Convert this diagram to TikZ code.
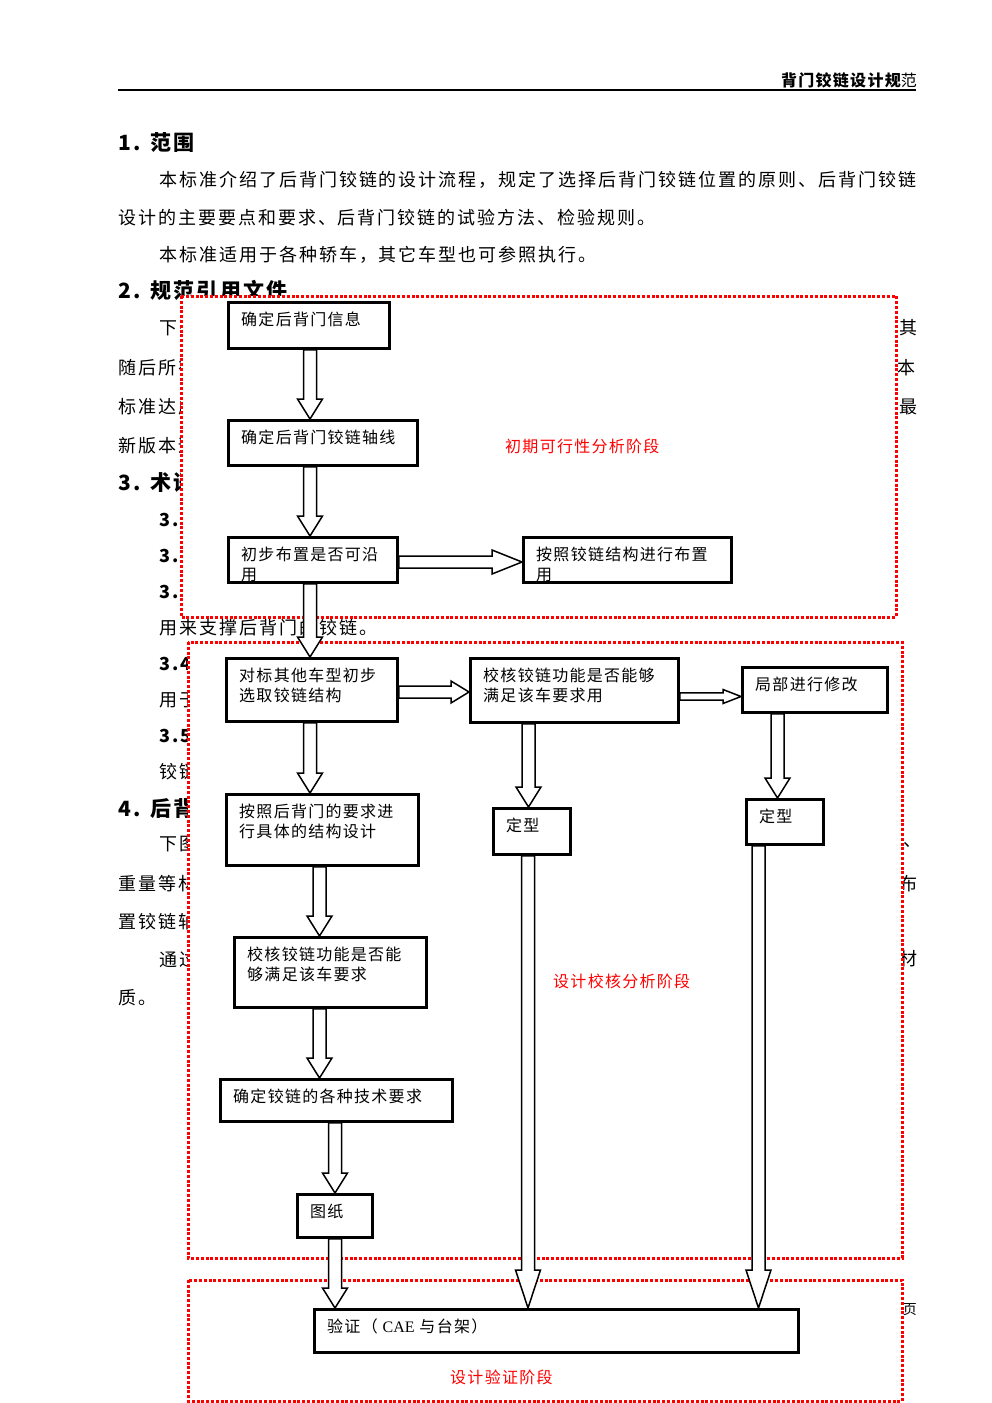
\documentclass[tikz,border=0pt]{standalone}
\usepackage{fontspec}
\setmainfont{Noto Sans CJK SC}
\newfontfamily\pagecjk[LetterSpace=11]{Noto Sans CJK SC}
\newfontfamily\stagecjk[LetterSpace=8]{Noto Sans CJK SC}
\newfontfamily\serifpart{Liberation Serif}
\usetikzlibrary{calc}
\tikzset{
stage/.style={draw, line width=2.9pt, fill=white, inner sep=0pt, anchor=north west}, % boxes of the flow chart
stagetext/.style={anchor=north west, inner sep=0pt, align=left, font=\stagecjk\fontsize{16}{20}\selectfont}, % text in a box, top left
flowarrow/.style={draw, line width=1.5pt, fill=white, line join=miter}, % hollow block arrows
phase/.style={draw=red, line width=3pt, dash pattern=on 3pt off 1.8pt, fill=white}, % dotted stage frames
phasetext/.style={anchor=west, inner sep=0pt, text=red, font=\stagecjk\fontsize{16}{20}\selectfont},
para/.style={anchor=west, inner sep=0pt, font=\pagecjk\fontsize{18}{20}\selectfont}, % page text behind the chart
paraend/.style={para, anchor=east},
sectionhead/.style={anchor=west, inner sep=0pt, font=\pagecjk\fontsize{21}{24}\selectfont\bfseries},
}
% vertical hollow arrow: [head length]{from}{to}{x}
\newcommand{\vflow}[4][20]{
    \draw[flowarrow] let \p1=(#2.south), \p2=(#3.north), \p3=(#4,0) in
        (\x3-6.5pt,\y1) -- (\x3-6.5pt,\y2+#1pt) -- (\x3-12.5pt,\y2+#1pt) -- (\x3,\y2)
        -- (\x3+12.5pt,\y2+#1pt) -- (\x3+6.5pt,\y2+#1pt) -- (\x3+6.5pt,\y1) -- cycle;
}
% horizontal hollow arrow: {from}{to}{y}{shaft half}{head half}{head length}
\newcommand{\hflow}[6]{
    \draw[flowarrow] let \p1=(#1.east), \p2=(#2.west), \p3=(0,#3) in
        (\x1,\y3+#4pt) -- (\x2-#6pt,\y3+#4pt) -- (\x2-#6pt,\y3+#5pt) -- (\x2,\y3)
        -- (\x2-#6pt,\y3-#5pt) -- (\x2-#6pt,\y3-#4pt) -- (\x1,\y3-#4pt) -- cycle;
}

\begin{document}
\begin{tikzpicture}[x=1pt, y=-1pt]
                \useasboundingbox (0,0) rectangle (992,1403);
                \fill[white] (0,0) rectangle (992,1403);
                % page behind the chart
                \node[anchor=east, inner sep=0pt, font=\stagecjk\fontsize{16}{20}\selectfont] (runhead) at (917,80) {{\bfseries 背门铰链设计规}范};
                \draw[line width=1.8pt] (118,90) -- (916,90);
                \node[sectionhead] (sec1) at (118,143) {1. 范围};
                \node[para] (p1) at (159,180) {本标准介绍了后背门铰链的设计流程，规定了选择后背门铰链位置的原则、后背门铰链};
                \node[para] (p2) at (118,218) {设计的主要要点和要求、后背门铰链的试验方法、检验规则。};
                \node[para] (p3) at (159,255) {本标准适用于各种轿车，其它车型也可参照执行。};
                \node[sectionhead] (sec2) at (118,290) {2. 规范引用文件};
                \node[para] (p4) at (159,328) {下列};
                \node[para] (p5) at (118,368) {随后所有};
                \node[para] (p6) at (118,407) {标准达成};
                \node[para] (p7) at (118,446) {新版本适};
                \node[sectionhead] (sec3) at (118,483) {3. 术语和};
                \node[para, font=\pagecjk\fontsize{18}{20}\selectfont\bfseries] (d1) at (159,520) {3.1};
                \node[para, font=\pagecjk\fontsize{18}{20}\selectfont\bfseries] (d2) at (159,556) {3.2};
                \node[para, font=\pagecjk\fontsize{18}{20}\selectfont\bfseries] (d3) at (159,592) {3.3};
                \node[para] (p8) at (159,628) {用来支撑后背门的铰链。};
                \node[para, font=\pagecjk\fontsize{18}{20}\selectfont\bfseries] (d4) at (159,664) {3.4};
                \node[para] (p9) at (159,700) {用于};
                \node[para, font=\pagecjk\fontsize{18}{20}\selectfont\bfseries] (d5) at (159,736) {3.5};
                \node[para] (p10) at (159,772) {铰链};
                \node[sectionhead] (sec4) at (118,808) {4. 后背门};
                \node[para] (p11) at (159,844) {下图};
                \node[para] (p12) at (118,884) {重量等材};
                \node[para] (p13) at (118,922) {置铰链轴};
                \node[para] (p14) at (159,960) {通过};
                \node[para] (p15) at (118,998) {质。};
                \node[paraend] (e1) at (918,328) {其};
                \node[paraend] (e2) at (916,368) {本};
                \node[paraend] (e3) at (918,407) {最};
                \node[paraend] (e4) at (922,845) {、};
                \node[paraend] (e5) at (918,884) {布};
                \node[paraend] (e6) at (918,959) {材};
                \node[paraend, font=\pagecjk\fontsize{14}{16}\selectfont] (e7) at (917,1310) {页};
                % stage frames
                \draw[phase] (181,296) rectangle (896,617);
                \draw[phase] (188,642) rectangle (902,1258);
                \draw[phase] (188,1280) rectangle (902,1401);
                \node[phasetext] (feasible) at (505,446) {初期可行性分析阶段};
                \node[phasetext] (checking) at (553,981) {设计校核分析阶段};
                \node[phasetext] (proving) at (450,1377) {设计验证阶段};
                % boxes
                \node[stage, minimum width=161, minimum height=46] (info) at (227,301) {};
                \node[stagetext] (info-t) at ([shift={(14,11)}]info.north west) {确定后背门信息};
                \node[stage, minimum width=189, minimum height=45] (axis) at (227,419) {};
                \node[stagetext] (axis-t) at ([shift={(14,11)}]axis.north west) {确定后背门铰链轴线};
                \node[stage, minimum width=169, minimum height=45] (reuse) at (227,536) {};
                \node[stagetext] (reuse-t) at ([shift={(14,11)}]reuse.north west) {初步布置是否可沿\\用};
                \node[stage, minimum width=208, minimum height=45] (layout) at (522,536) {};
                \node[stagetext] (layout-t) at ([shift={(14,11)}]layout.north west) {按照铰链结构进行布置\\用};
                \node[stage, minimum width=171, minimum height=63] (bench) at (225,657) {};
                \node[stagetext] (bench-t) at ([shift={(14,11)}]bench.north west) {对标其他车型初步\\选取铰链结构};
                \node[stage, minimum width=208, minimum height=64] (funccheck) at (469,657) {};
                \node[stagetext] (funccheck-t) at ([shift={(14,11)}]funccheck.north west) {校核铰链功能是否能够\\满足该车要求用};
                \node[stage, minimum width=145, minimum height=45] (modify) at (741,666) {};
                \node[stagetext] (modify-t) at ([shift={(14,11)}]modify.north west) {局部进行修改};
                \node[stage, minimum width=77, minimum height=46] (fixA) at (492,807) {};
                \node[stagetext] (fixA-t) at ([shift={(14,11)}]fixA.north west) {定型};
                \node[stage, minimum width=77, minimum height=45] (fixB) at (745,798) {};
                \node[stagetext] (fixB-t) at ([shift={(14,11)}]fixB.north west) {定型};
                \node[stage, minimum width=192, minimum height=71] (design) at (225,793) {};
                \node[stagetext] (design-t) at ([shift={(14,11)}]design.north west) {按照后背门的要求进\\行具体的结构设计};
                \node[stage, minimum width=192, minimum height=70] (recheck) at (233,936) {};
                \node[stagetext] (recheck-t) at ([shift={(14,11)}]recheck.north west) {校核铰链功能是否能\\够满足该车要求};
                \node[stage, minimum width=232, minimum height=42] (spec) at (219,1078) {};
                \node[stagetext] (spec-t) at ([shift={(14,11)}]spec.north west) {确定铰链的各种技术要求};
                \node[stage, minimum width=75, minimum height=43] (drawing) at (296,1193) {};
                \node[stagetext] (drawing-t) at ([shift={(14,11)}]drawing.north west) {图纸};
                \node[stage, minimum width=484, minimum height=43] (verify) at (313,1308) {};
                \node[stagetext] (verify-t) at ([shift={(14,11)}]verify.north west) {验证（ {\serifpart CAE} 与台架）};
                % arrows
                \vflow{info}{axis}{310}
                \vflow{axis}{reuse}{310}
                \vflow{reuse}{bench}{310}
                \vflow{bench}{design}{310}
                \vflow{design}{recheck}{319.5}
                \vflow{recheck}{spec}{319.5}
                \vflow{spec}{drawing}{335}
                \vflow{drawing}{verify}{335}
                \vflow{funccheck}{fixA}{528.5}
                \vflow{modify}{fixB}{777.5}
                \vflow[38]{fixA}{verify}{528}
                \vflow[38]{fixB}{verify}{758.5}
                \hflow{reuse}{layout}{562}{6}{12}{30}
                \hflow{bench}{funccheck}{692}{6}{11}{18}
                \hflow{funccheck}{modify}{696.5}{3.7}{7}{18}
            \end{tikzpicture}
\end{document}
